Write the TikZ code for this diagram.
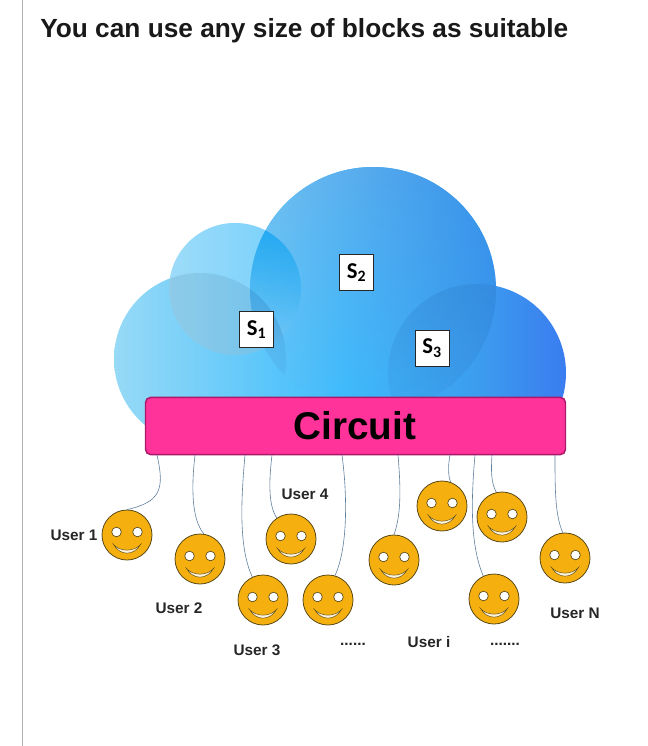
\documentclass[tikz,border=0pt]{standalone}
\usepackage{fontspec}
\usetikzlibrary{fadings}
\setmainfont{Liberation Sans}
\newfontfamily\boxfont{Carlito}
\definecolor{facefill}{HTML}{F5B010}
\definecolor{faceedge}{HTML}{5A4A15}
\definecolor{wirecol}{HTML}{5F7F9F}
\definecolor{circuitpink}{HTML}{FF3399}
\definecolor{cloudlight}{HTML}{97DAF6}
\definecolor{cloudmid}{HTML}{3DBCFD}
\definecolor{cloudblue}{HTML}{3C9CEE}
\definecolor{clouddeep}{HTML}{3A7CF0}
\definecolor{bigtop}{HTML}{3590EA}
\definecolor{bigedge}{HTML}{74C2F0}
\definecolor{lenscyan}{HTML}{12A4F2}
\tikzfading[name=bigfade, top color=transparent!0, middle color=transparent!30, bottom color=transparent!100]
\tikzfading[name=lensfade, top color=transparent!0, bottom color=transparent!100]
\tikzset{
  x=0.75pt, y=-0.75pt,
  face/.style={circle, draw=faceedge, fill=facefill, line width=0.6pt, minimum size=37.5pt, inner sep=0pt},
  wire/.style={draw=wirecol, line width=0.45pt},
  userlabel/.style={font=\fontsize{11.5}{13}\selectfont\bfseries, text=black!85, inner sep=0pt},
  sbox/.style={draw=black!85, fill=white, line width=0.7pt, minimum width=25.5pt, minimum height=27pt, inner sep=0pt, font=\boxfont\fontsize{17}{18}\selectfont\bfseries},
}
\begin{document}
\begin{tikzpicture}
\useasboundingbox (0,0) rectangle (648,746);
\draw[black!30, line width=0.75pt] (22,0) -- (22,746);
\node[font=\fontsize{19.7}{24}\selectfont\bfseries, text=black!90, inner sep=0pt, anchor=west] (title) at (40,30.5) {You can use any size of blocks as suitable};
\begin{scope}
  \clip (100,150) rectangle (580,454);
  \clip (235,289) circle (66) (200,359) circle (86) (373,290) circle (123) (477,373) circle (89) (200,340) -- (480,340) -- (480,454) -- (200,454) -- cycle;
  \shade[left color=cloudlight, right color=cloudmid] (114,160) rectangle (345,460);
  \shade[left color=cloudmid, right color=cloudblue] (344,160) rectangle (480,460);
  \shade[left color=cloudblue, right color=clouddeep] (479,160) rectangle (567,460);
  \begin{scope}
    \clip (235,289) circle (66);
    \fill[white, opacity=0.22] (150,200) rectangle (310,360);
    \begin{scope}
      \clip (200,359) circle (86);
      \fill[black!60!cloudblue, opacity=0.1] (150,200) rectangle (310,360);
    \end{scope}
  \end{scope}
  \begin{scope}
    \clip (373,290) circle (123);
    \shade[left color=bigedge, right color=bigtop, path fading=bigfade] (250,167) rectangle (497,413);
    \fill[lenscyan, opacity=0.85, path fading=lensfade] (235,289) circle (66);
    \fill[cloudblue!85!black, opacity=0.3, path fading=lensfade] (200,359) circle (86);
    \fill[bigtop!85!black, opacity=0.3, path fading=lensfade] (477,373) circle (89);
  \end{scope}
\end{scope}
\node[sbox] (s1) at (256.5,329.5) {S\textsubscript{1}};
\node[sbox] (s2) at (356.5,272.5) {S\textsubscript{2}};
\node[sbox] (s3) at (432,348) {S\textsubscript{3}};
\node[draw={rgb,255:red,170;green,25;blue,105}, line width=1.1pt, rounded corners=4pt, fill=circuitpink, minimum width=315pt, minimum height=43pt, inner sep=0pt] (circuit) at (355.5,426) {};
\node[font=\fontsize{29}{32}\selectfont\bfseries, text=black, inner sep=0pt] (circuitlabel) at (355,426) {Circuit};
\foreach \n/\px/\py in {1/127/535, 2/200/559, 3/263/600, 4/291/539, 5/328/600, 6/394/560, 7/442/506, 8/502/517, 9/494/599, 10/565/558} {
  \node[face] (user\n) at (\px,\py) {};
  \begin{scope}[shift={(\px,\py)}]
    \draw[faceedge, fill=white, line width=0.5pt] (-10.5,-3) circle (4.8) (10.5,-3) circle (4.8);
    \draw[faceedge, fill=white!85!facefill, line width=0.35pt] (-13.5,9.5) .. controls (-7,21) and (7,21) .. (13.5,9.5) .. controls (7,17) and (-7,17) .. cycle;
  \end{scope}
}
\foreach \n/\tx/\ang/\ax/\ay/\bx/\by in {1/157/90/165/490/160/502, 2/195/81/191/490/192/520, 3/245/115/240/510/240/550, 4/272/124/269/480/268/505, 5/342/74/348/500/347/550, 6/398/90/401/490/401/515, 7/450/70/448/465/448/476, 8/492/103/491/470/491/483, 9/475/115/471/500/470/545, 10/555/95/555/490/555/515} {
  \coordinate (top\n) at (\tx,455);
  \draw[wire] (top\n) .. controls (\ax,\ay) and (\bx,\by) .. (user\n.\ang);
}
\node[userlabel] (label1) at (74,535) {User 1};
\node[userlabel] (label2) at (179,608) {User 2};
\node[userlabel] (label3) at (257,650) {User 3};
\node[userlabel] (label4) at (305,494) {User 4};
\node[userlabel] (labeli) at (429,642) {User i};
\node[userlabel] (labeln) at (575,613) {User N};
\node[userlabel] (dots1) at (353,644) {......};
\node[userlabel] (dots2) at (505,644) {.......};
\end{tikzpicture}
\end{document}
